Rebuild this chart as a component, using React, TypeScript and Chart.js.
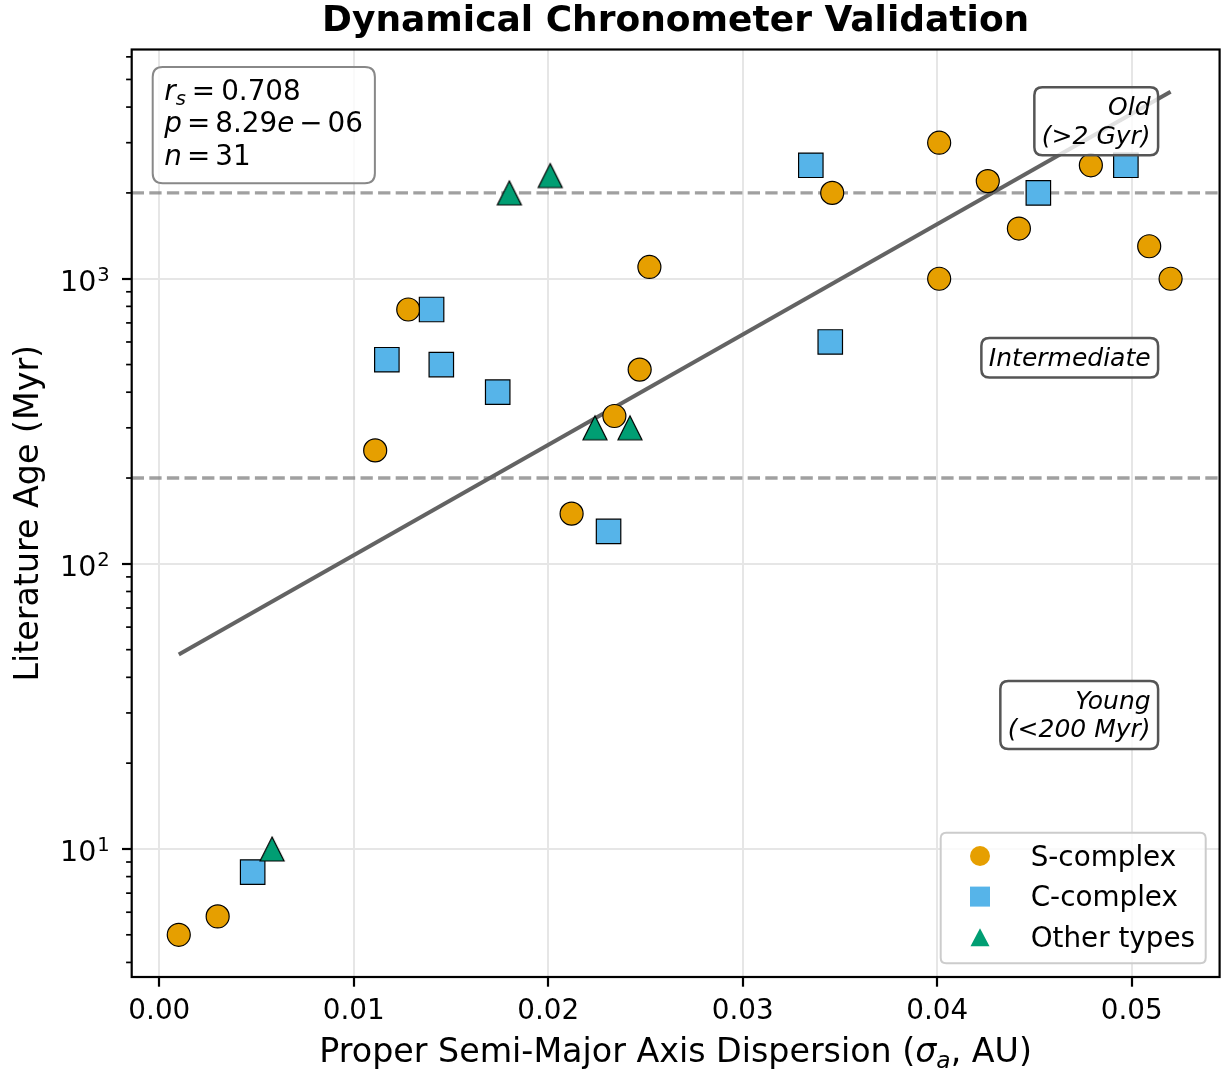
import React, { useEffect, useRef } from 'react';
import { Chart, registerables } from 'chart.js';

Chart.register(...registerables);

// ---------------- data ----------------
const sComplexX = [0.001, 0.003, 0.0111, 0.0128, 0.0212, 0.0234, 0.0247, 0.0252, 0.0346, 0.0401, 0.0401, 0.0426, 0.0442, 0.0479, 0.0509, 0.052];
const sComplexY = [5.0, 5.8, 250, 780, 150, 330, 480, 1100, 2000, 3000, 1000, 2200, 1500, 2500, 1300, 1000];
const cComplexX = [0.0048, 0.0117, 0.014, 0.0145, 0.0174, 0.0231, 0.0335, 0.0345, 0.0452, 0.0497];
const cComplexY = [8.3, 520, 780, 500, 400, 130, 2500, 600, 2000, 2500];
const otherX = [0.0058, 0.018, 0.0201, 0.0224, 0.0242];
const otherY = [10, 2000, 2300, 300, 300];
const fitX = [0.001, 0.052];
const fitY = [48.1, 4530];
const thresholds = [200, 2000];

const xTicks = [0, 0.01, 0.02, 0.03, 0.04, 0.05];
const yTicks = [10, 100, 1000];
const yTickExponents = ['1', '2', '3'];
const yMinorTicks = [4, 5, 6, 7, 8, 9, 20, 30, 40, 50, 60, 70, 80, 90, 200, 300, 400, 500, 600, 700, 800, 900, 2000, 3000, 4000, 5000, 6000];

const legendLabels = ['S-complex', 'C-complex', 'Other types'];
const annotationLines = [['Old', '(>2 Gyr)'], ['Intermediate'], ['Young', '(<200 Myr)']];
const statRs = '0.708';
const statP = '8.29';
const statPExp = '06';
const statN = '31';

const titleText = 'Dynamical Chronometer Validation';
const xLabelPre = 'Proper Semi-Major Axis Dispersion (';
const xLabelPost = ', AU)';
const yLabelText = 'Literature Age (Myr)';

// ---------------- styles ----------------
const ORANGE = '#E69F00';
const BLUE = '#56B4E9';
const GREEN = '#009E73';
const FONT = "'DejaVu Sans', sans-serif";

function makeTriangle(color: string, size: number, edge: string | null, lw: number) {
  const pad = 2;
  const c = document.createElement('canvas');
  c.width = size + pad * 2;
  c.height = size + pad * 2;
  const ctx = c.getContext('2d')!;
  ctx.beginPath();
  ctx.moveTo(pad + size / 2, pad);
  ctx.lineTo(pad + size, pad + size);
  ctx.lineTo(pad, pad + size);
  ctx.closePath();
  ctx.fillStyle = color;
  ctx.fill();
  if (edge) {
    ctx.strokeStyle = edge;
    ctx.lineWidth = lw;
    ctx.lineJoin = 'miter';
    ctx.stroke();
  }
  return c;
}

function roundRect(ctx: CanvasRenderingContext2D, x: number, y: number, w: number, h: number, r: number) {
  ctx.beginPath();
  ctx.moveTo(x + r, y);
  ctx.lineTo(x + w - r, y);
  ctx.quadraticCurveTo(x + w, y, x + w, y + r);
  ctx.lineTo(x + w, y + h - r);
  ctx.quadraticCurveTo(x + w, y + h, x + w - r, y + h);
  ctx.lineTo(x + r, y + h);
  ctx.quadraticCurveTo(x, y + h, x, y + h - r);
  ctx.lineTo(x, y + r);
  ctx.quadraticCurveTo(x, y, x + r, y);
  ctx.closePath();
}

export default function App() {
  const ref = useRef<HTMLCanvasElement>(null);

  useEffect(() => {
    const canvas = ref.current!;
    const tri = makeTriangle(GREEN, 24, '#000', 1.2);

    const decor = {
      id: 'decor',
      beforeDatasetsDraw(chart: any) {
        const { ctx, chartArea: ca, scales } = chart;
        const ys = scales.y;
        ctx.save();
        ctx.strokeStyle = 'rgba(128,128,128,0.75)';
        ctx.lineWidth = 3.3;
        ctx.setLineDash([12.3, 5.3]);
        thresholds.forEach((v) => {
          const py = ys.getPixelForValue(v);
          ctx.beginPath();
          ctx.moveTo(ca.left, py);
          ctx.lineTo(ca.right, py);
          ctx.stroke();
        });
        ctx.restore();
      },
      afterDraw(chart: any) {
        const { ctx, chartArea: ca, scales } = chart;
        const ys = scales.y;
        ctx.save();
        // minor ticks
        ctx.strokeStyle = '#000';
        ctx.lineWidth = 1.7;
        yMinorTicks.forEach((v) => {
          const py = ys.getPixelForValue(v);
          if (py < ca.top || py > ca.bottom) return;
          ctx.beginPath();
          ctx.moveTo(ca.left - 5.6, py);
          ctx.lineTo(ca.left, py);
          ctx.stroke();
        });
        // spines
        ctx.lineWidth = 2.2;
        ctx.lineJoin = 'miter';
        ctx.strokeRect(ca.left, ca.top, ca.right - ca.left, ca.bottom - ca.top);

        // y tick labels: 10 with superscript exponent
        ctx.fillStyle = '#000';
        ctx.textBaseline = 'alphabetic';
        yTicks.forEach((v, i) => {
          const py = ys.getPixelForValue(v);
          const supRight = ca.left - 22;
          ctx.font = `19.5px ${FONT}`;
          ctx.textAlign = 'right';
          ctx.fillText(yTickExponents[i], supRight, py + 2.4);
          const sw = ctx.measureText(yTickExponents[i]).width;
          ctx.font = `28.5px ${FONT}`;
          ctx.fillText('10', supRight - sw - 1, py + 12.4);
        });

        // annotation boxes
        const annBase = [65.5, 316.2, 659.2];
        const textRight = ca.right - 69;
        ctx.font = `italic 25px ${FONT}`;
        annotationLines.forEach((lines, i) => {
          const b1 = ca.top + annBase[i];
          const lh = 28.5;
          let maxW = 0;
          lines.forEach((l) => { maxW = Math.max(maxW, ctx.measureText(l).width); });
          const left = textRight - maxW - 7.5;
          const right = textRight + 7.5;
          const top = b1 - 27.7;
          const bottom = b1 + (lines.length - 1) * lh + 11.7;
          roundRect(ctx, left, top, right - left, bottom - top, 8);
          ctx.fillStyle = 'rgba(255,255,255,0.8)';
          ctx.fill();
          ctx.strokeStyle = '#555';
          ctx.lineWidth = 2.5;
          ctx.stroke();
          ctx.fillStyle = '#000';
          ctx.textAlign = 'right';
          ctx.textBaseline = 'alphabetic';
          lines.forEach((l, j) => ctx.fillText(l, textRight, b1 + j * lh));
        });

        // stats box
        const tx = ca.left + 32.6;
        const base = [ca.top + 50, ca.top + 82, ca.top + 115.5];
        const fs = 27.8;
        const it = `italic ${fs}px ${FONT}`;
        const rm = `${fs}px ${FONT}`;
        const sub = `italic ${fs * 0.7}px ${FONT}`;
        const gap = 6;
        ctx.textAlign = 'left';
        ctx.textBaseline = 'alphabetic';
        const draw = (t: string, font: string, x: number, y: number) => {
          ctx.font = font;
          ctx.fillText(t, x, y);
          return x + ctx.measureText(t).width;
        };
        const lineEnds: number[] = [];
        const renderLines = (doDraw: boolean) => {
          const d = doDraw ? draw : (t: string, font: string, x: number) => { ctx.font = font; return x + ctx.measureText(t).width; };
          let x = tx;
          x = d('r', it, x, base[0]);
          x = d('s', sub, x, base[0] + 5);
          x += gap;
          x = d('=', rm, x, base[0]);
          x += gap;
          x = d(statRs, rm, x, base[0]);
          lineEnds[0] = x;
          x = tx;
          x = d('p', it, x, base[1]);
          x += gap - 1;
          x = d('=', rm, x, base[1]);
          x += gap - 1;
          x = d(statP, rm, x, base[1]);
          x = d('e', it, x, base[1]);
          x += gap - 1;
          x = d('\u2212', rm, x, base[1]);
          x += gap - 1;
          x = d(statPExp, rm, x, base[1]);
          lineEnds[1] = x;
          x = tx;
          x = d('n', it, x, base[2]);
          x += gap - 1;
          x = d('=', rm, x, base[2]);
          x += gap - 1;
          x = d(statN, rm, x, base[2]);
          lineEnds[2] = x;
        };
        renderLines(false);
        const sRight = Math.max(...lineEnds) + 12;
        const sLeft = tx - 11.6;
        const sTop = base[0] - 32.6;
        const sBottom = base[2] + 18.3;
        roundRect(ctx, sLeft, sTop, sRight - sLeft, sBottom - sTop, 10);
        ctx.fillStyle = 'rgba(255,255,255,0.8)';
        ctx.fill();
        ctx.strokeStyle = '#888';
        ctx.lineWidth = 2;
        ctx.stroke();
        ctx.fillStyle = '#000';
        renderLines(true);

        // legend
        const lRight = ca.right - 13.9;
        const lBottom = ca.bottom - 13.7;
        const lLeft = lRight - 265;
        const lTop = lBottom - 130.6;
        roundRect(ctx, lLeft, lTop, lRight - lLeft, lBottom - lTop, 5.5);
        ctx.fillStyle = 'rgba(255,255,255,0.8)';
        ctx.fill();
        ctx.strokeStyle = '#cccccc';
        ctx.lineWidth = 2;
        ctx.stroke();
        const rows = [lTop + 23.3, lTop + 63.9, lTop + 104.5];
        const mx = lLeft + 39.3;
        ctx.fillStyle = ORANGE;
        ctx.beginPath();
        ctx.arc(mx, rows[0], 10, 0, Math.PI * 2);
        ctx.fill();
        ctx.fillStyle = BLUE;
        ctx.fillRect(mx - 10, rows[1] - 10, 20, 20);
        ctx.fillStyle = GREEN;
        ctx.beginPath();
        ctx.moveTo(mx, rows[2] - 9);
        ctx.lineTo(mx + 9.5, rows[2] + 9);
        ctx.lineTo(mx - 9.5, rows[2] + 9);
        ctx.closePath();
        ctx.fill();
        ctx.fillStyle = '#000';
        ctx.font = `27.8px ${FONT}`;
        ctx.textAlign = 'left';
        legendLabels.forEach((l, i) => ctx.fillText(l, lLeft + 90, rows[i] + 9.5));

        // title
        const cx = (ca.left + ca.right) / 2;
        ctx.font = `bold 36px ${FONT}`;
        ctx.textAlign = 'center';
        ctx.fillText(titleText, cx, 31);

        // x label
        const xf = `33.3px ${FONT}`;
        const xfi = `italic 33.3px ${FONT}`;
        const xfs = `italic ${33.3 * 0.7}px ${FONT}`;
        ctx.textAlign = 'left';
        ctx.font = xf;
        const w1 = ctx.measureText(xLabelPre).width;
        const w4 = ctx.measureText(xLabelPost).width;
        ctx.font = xfi;
        const w2 = ctx.measureText('\u03C3').width;
        ctx.font = xfs;
        const w3 = ctx.measureText('a').width;
        let x0 = cx - (w1 + w2 + w3 + w4) / 2;
        const xb = 1062;
        ctx.font = xf; ctx.fillText(xLabelPre, x0, xb); x0 += w1;
        ctx.font = xfi; ctx.fillText('\u03C3', x0, xb); x0 += w2;
        ctx.font = xfs; ctx.fillText('a', x0, xb + 6); x0 += w3;
        ctx.font = xf; ctx.fillText(xLabelPost, x0, xb);

        // y label
        ctx.save();
        ctx.translate(38, (ca.top + ca.bottom) / 2);
        ctx.rotate(-Math.PI / 2);
        ctx.font = `33.3px ${FONT}`;
        ctx.textAlign = 'center';
        ctx.textBaseline = 'alphabetic';
        ctx.fillText(yLabelText, 0, 0);
        ctx.restore();

        ctx.restore();
      },
    };

    const pts = (xs: number[], ysv: number[]) => xs.map((x, i) => ({ x, y: ysv[i] }));

    const chart = new Chart(canvas, {
      type: 'scatter',
      data: {
        datasets: [
          {
            label: legendLabels[0],
            data: pts(sComplexX, sComplexY),
            pointStyle: 'circle',
            pointRadius: 11.5,
            backgroundColor: ORANGE,
            borderColor: '#000',
            borderWidth: 1.2,
            order: 3,
          },
          {
            label: legendLabels[1],
            data: pts(cComplexX, cComplexY),
            pointStyle: 'rect',
            pointRadius: 17.3,
            backgroundColor: BLUE,
            borderColor: '#000',
            borderWidth: 1.2,
            order: 2,
          },
          {
            label: legendLabels[2],
            data: pts(otherX, otherY),
            pointStyle: tri as any,
            pointRadius: 12,
            backgroundColor: GREEN,
            borderColor: '#000',
            borderWidth: 1.2,
            order: 1,
          },
          {
            label: 'fit',
            data: pts(fitX, fitY),
            showLine: true,
            pointRadius: 0,
            borderColor: '#636363',
            borderWidth: 4,
            fill: false,
            order: 10,
          } as any,
        ],
      },
      options: {
        responsive: false,
        animation: false,
        devicePixelRatio: 1,
        events: [],
        layout: { autoPadding: false, padding: { top: 49.5, right: 3.4, left: 0, bottom: 0 } },
        plugins: {
          legend: { display: false },
          tooltip: { enabled: false },
          title: { display: false },
        },
        scales: {
          x: {
            type: 'linear',
            min: -0.00142,
            max: 0.05452,
            afterFit: (s: any) => { s.height = 100; s.paddingLeft = 0; s.paddingRight = 0; },
            afterBuildTicks: (s: any) => { s.ticks = xTicks.map((v) => ({ value: v })); },
            ticks: {
              callback: (v: any) => Number(v).toFixed(2),
              font: { family: FONT, size: 27.8 },
              color: '#000',
              padding: 8,
              maxRotation: 0,
              autoSkip: false,
            },
            grid: { color: '#e6e6e6', lineWidth: 2, tickColor: '#000', tickLength: 9.7, tickWidth: 2.2 },
            border: { display: false },
          },
          y: {
            type: 'logarithmic',
            min: 3.556,
            max: 6368,
            afterFit: (s: any) => { s.width = 131.7; s.paddingTop = 0; s.paddingBottom = 0; },
            afterBuildTicks: (s: any) => { s.ticks = yTicks.map((v) => ({ value: v })); },
            ticks: {
              callback: () => '',
              font: { family: FONT, size: 27.8 },
              color: '#000',
              padding: 12,
              autoSkip: false,
            },
            grid: { color: '#e6e6e6', lineWidth: 2, tickColor: '#000', tickLength: 9.7, tickWidth: 2.2 },
            border: { display: false },
          },
        },
      },
      plugins: [decor],
    } as any);

    return () => chart.destroy();
  }, []);

  return (
    <div style={{ position: 'absolute', left: 0, top: 0, width: 1223, height: 1077, background: '#fff' }}>
      <canvas ref={ref} width={1223} height={1077} style={{ display: 'block', width: 1223, height: 1077 }} />
    </div>
  );
}
